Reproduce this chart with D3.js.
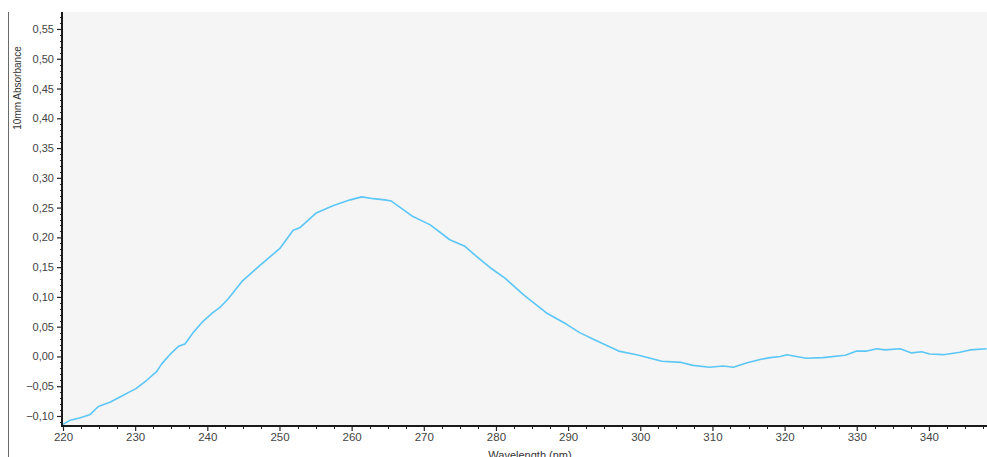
<!DOCTYPE html>
<html>
<head>
<meta charset="utf-8">
<script src="https://cdn.jsdelivr.net/npm/d3@7"></script>
<style>
  html, body { margin: 0; padding: 0; background: #ffffff; }
  svg { display: block; font-family: "Liberation Sans", Arial, sans-serif; }
</style>
</head>
<body>
<svg id="chart" width="987" height="457"></svg>
<script>
// UV absorbance spectrum (10 mm path length)
const wavelength = [
  220.0, 221.0, 222.4, 223.7, 224.9, 226.5, 227.9, 229.3, 230.1, 231.6,
  233.0, 233.7, 234.8, 236.0, 236.9, 238.1, 239.4, 240.8, 241.8, 242.9,
  244.8, 247.3, 250.1, 251.9, 252.8, 255.1, 257.4, 259.8, 261.4, 263.0,
  264.6, 265.5, 268.5, 270.9, 273.6, 275.7, 277.3, 279.2, 281.2, 283.8,
  287.0, 289.8, 291.6, 293.5, 297.0, 299.5, 303.0, 305.7, 307.3, 309.6,
  311.5, 312.9, 314.7, 316.6, 318.0, 319.4, 320.3, 323.0, 325.3, 328.4,
  330.0, 331.4, 332.8, 333.9, 336.0, 337.6, 339.0, 340.1, 342.0, 344.3,
  345.7, 348.0
];
const absorbance = [
  -0.114, -0.107, -0.103, -0.098, -0.084, -0.077, -0.068, -0.059, -0.054, -0.040,
  -0.025, -0.012, 0.003, 0.017, 0.021, 0.041, 0.059, 0.074, 0.083, 0.097,
  0.126, 0.153, 0.182, 0.212, 0.216, 0.241, 0.253, 0.263, 0.268, 0.265,
  0.263, 0.261, 0.235, 0.221, 0.196, 0.185, 0.168, 0.149, 0.132, 0.104,
  0.073, 0.054, 0.040, 0.029, 0.009, 0.003, -0.008, -0.010, -0.015, -0.018,
  -0.016, -0.018, -0.011, -0.005, -0.002, 0.000, 0.003, -0.003, -0.002, 0.002,
  0.009, 0.009, 0.013, 0.011, 0.013, 0.006, 0.008, 0.004, 0.003, 0.007,
  0.011, 0.013
];
const xTickValues = [220, 230, 240, 250, 260, 270, 280, 290, 300, 310, 320, 330, 340];
const yTickValues = [-0.10, -0.05, 0.00, 0.05, 0.10, 0.15, 0.20, 0.25, 0.30, 0.35, 0.40, 0.45, 0.50, 0.55];
const xDomain = [220, 348.05];
const yDomain = [-0.1168, 0.5785];
const yTitle = "10mm Absorbance";
const xTitle = "Wavelength (nm)";

const svg = d3.select("#chart");
const plot = { left: 63, right: 987, top: 12, bottom: 426 };

const x = d3.scaleLinear().domain(xDomain).range([plot.left, plot.right]);
const y = d3.scaleLinear().domain(yDomain).range([plot.bottom, plot.top]);

const locale = d3.formatLocale({ decimal: ",", thousands: ".", grouping: [3], currency: ["", ""] });
const fmtY = locale.format(".2f");
const fmtX = d3.format("d");

// outer frame line on the left
svg.append("line")
  .attr("x1", 8.5).attr("x2", 8.5).attr("y1", 12).attr("y2", 457)
  .attr("stroke", "#6a6a6a").attr("stroke-width", 1);

// plot background
svg.append("rect")
  .attr("x", plot.left).attr("y", plot.top)
  .attr("width", plot.right - plot.left).attr("height", plot.bottom - plot.top)
  .attr("fill", "#f5f5f5");

// minor ticks
const yMinor = d3.range(-0.11, 0.575, 0.01).filter(v => Math.abs(Math.round(v * 100) % 5) !== 0);
svg.append("g").selectAll("line").data(yMinor).join("line")
  .attr("x1", plot.left - 3).attr("x2", plot.left)
  .attr("y1", d => Math.round(y(d)) + 0.5).attr("y2", d => Math.round(y(d)) + 0.5)
  .attr("stroke", "#222").attr("stroke-width", 1);

const xMinor = d3.range(222.5, 348, 2.5).filter(v => v % 10 !== 0);
svg.append("g").selectAll("line").data(xMinor).join("line")
  .attr("x1", d => Math.round(x(d)) + 0.5).attr("x2", d => Math.round(x(d)) + 0.5)
  .attr("y1", plot.bottom).attr("y2", plot.bottom + 3)
  .attr("stroke", "#222").attr("stroke-width", 1);

// y axis
const yAxis = svg.append("g")
  .attr("transform", `translate(${plot.left - 1},0)`)
  .call(d3.axisLeft(y).tickValues(yTickValues).tickFormat(fmtY).tickSize(5).tickPadding(3));
yAxis.select(".domain").remove();
yAxis.selectAll(".tick line").attr("stroke", "#222").attr("stroke-width", 1.2);
yAxis.selectAll(".tick text").attr("font-size", 11).attr("fill", "#444")
  .attr("font-family", "Liberation Sans, Arial, sans-serif");

// x axis
const xAxis = svg.append("g")
  .attr("transform", `translate(0,${plot.bottom})`)
  .call(d3.axisBottom(x).tickValues(xTickValues).tickFormat(fmtX).tickSize(5).tickPadding(2));
xAxis.select(".domain").remove();
xAxis.selectAll(".tick line").attr("stroke", "#222").attr("stroke-width", 1.2);
xAxis.selectAll(".tick text").attr("font-size", 11.5).attr("fill", "#444")
  .attr("font-family", "Liberation Sans, Arial, sans-serif");

// axis lines
svg.append("line")
  .attr("x1", plot.left - 1).attr("x2", plot.left - 1)
  .attr("y1", plot.top).attr("y2", plot.bottom + 1)
  .attr("stroke", "#1a1a1a").attr("stroke-width", 2);
svg.append("line")
  .attr("x1", plot.left - 2).attr("x2", plot.right)
  .attr("y1", plot.bottom).attr("y2", plot.bottom)
  .attr("stroke", "#1a1a1a").attr("stroke-width", 2);

// spectrum line
const points = wavelength.map((w, i) => [w, absorbance[i]]);
svg.append("path")
  .datum(points)
  .attr("fill", "none")
  .attr("stroke", "#5cc6f6")
  .attr("stroke-width", 1.6)
  .attr("stroke-linejoin", "round")
  .attr("d", d3.line().x(d => x(d[0])).y(d => y(d[1])));

// axis titles
svg.append("text")
  .attr("transform", "translate(21,88) rotate(-90)")
  .attr("text-anchor", "middle")
  .attr("font-size", 10).attr("fill", "#333")
  .text(yTitle);
svg.append("text")
  .attr("x", 530).attr("y", 459)
  .attr("text-anchor", "middle")
  .attr("font-size", 11).attr("fill", "#333")
  .text(xTitle);
</script>
</body>
</html>
